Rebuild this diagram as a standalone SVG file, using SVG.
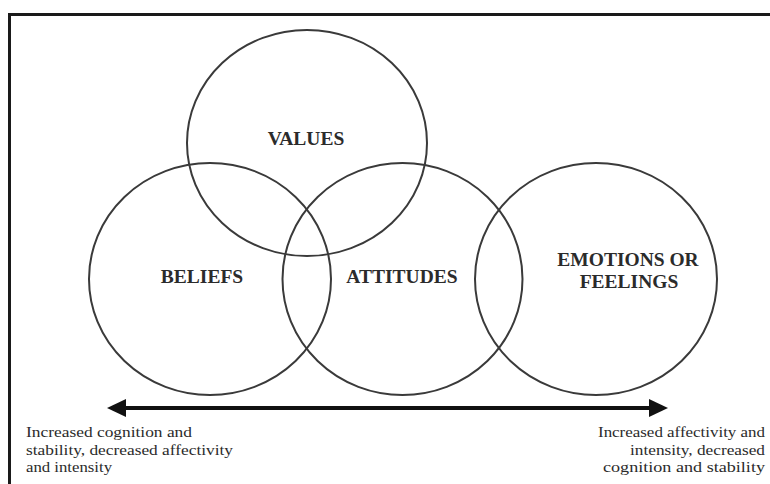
<svg xmlns="http://www.w3.org/2000/svg" width="770" height="484" viewBox="0 0 770 484">
<style>
.c{fill:none;stroke:#3a3a3a;stroke-width:2}
.lbl{font-family:"Liberation Serif","Times New Roman",serif;font-weight:bold;font-size:19.5px;fill:#2b2b2b;text-anchor:middle}
.note{font-family:"Liberation Serif","Times New Roman",serif;font-size:15px;fill:#2b2b2b}
</style>
<rect width="770" height="484" fill="#ffffff"/>
<rect x="9.5" y="14.5" width="800" height="500" fill="none" stroke="#1a1a1a" stroke-width="3"/>
<g id="values"><ellipse class="c" cx="307" cy="143" rx="120" ry="113"/><text class="lbl" x="306" y="145">VALUES</text></g>
<g id="beliefs"><ellipse class="c" cx="210" cy="279" rx="121" ry="116"/><text class="lbl" x="202" y="283">BELIEFS</text></g>
<g id="attitudes"><ellipse class="c" cx="402.5" cy="279" rx="120" ry="116"/><text class="lbl" x="402" y="283">ATTITUDES</text></g>
<g id="emotions"><ellipse class="c" cx="596" cy="279" rx="121" ry="116"/><text class="lbl" x="628" y="266">EMOTIONS OR</text><text class="lbl" x="629" y="288">FEELINGS</text></g>
<g id="connectors">
<line x1="122" y1="408" x2="652" y2="408" stroke="#111" stroke-width="4"/>
<polygon points="107,408 126,399 126,417" fill="#111"/>
<polygon points="668,408 649,399 649,417" fill="#111"/>
</g>
<g id="left-note" class="note">
<text x="26" y="437" textLength="166" lengthAdjust="spacingAndGlyphs">Increased cognition and</text>
<text x="26" y="455" textLength="207" lengthAdjust="spacingAndGlyphs">stability, decreased affectivity</text>
<text x="26" y="472" textLength="86" lengthAdjust="spacingAndGlyphs">and intensity</text>
</g>
<g id="right-note" class="note">
<text x="598" y="437" textLength="167" lengthAdjust="spacingAndGlyphs">Increased affectivity and</text>
<text x="630" y="455" textLength="135" lengthAdjust="spacingAndGlyphs">intensity, decreased</text>
<text x="603" y="472" textLength="162" lengthAdjust="spacingAndGlyphs">cognition and stability</text>
</g>
</svg>
